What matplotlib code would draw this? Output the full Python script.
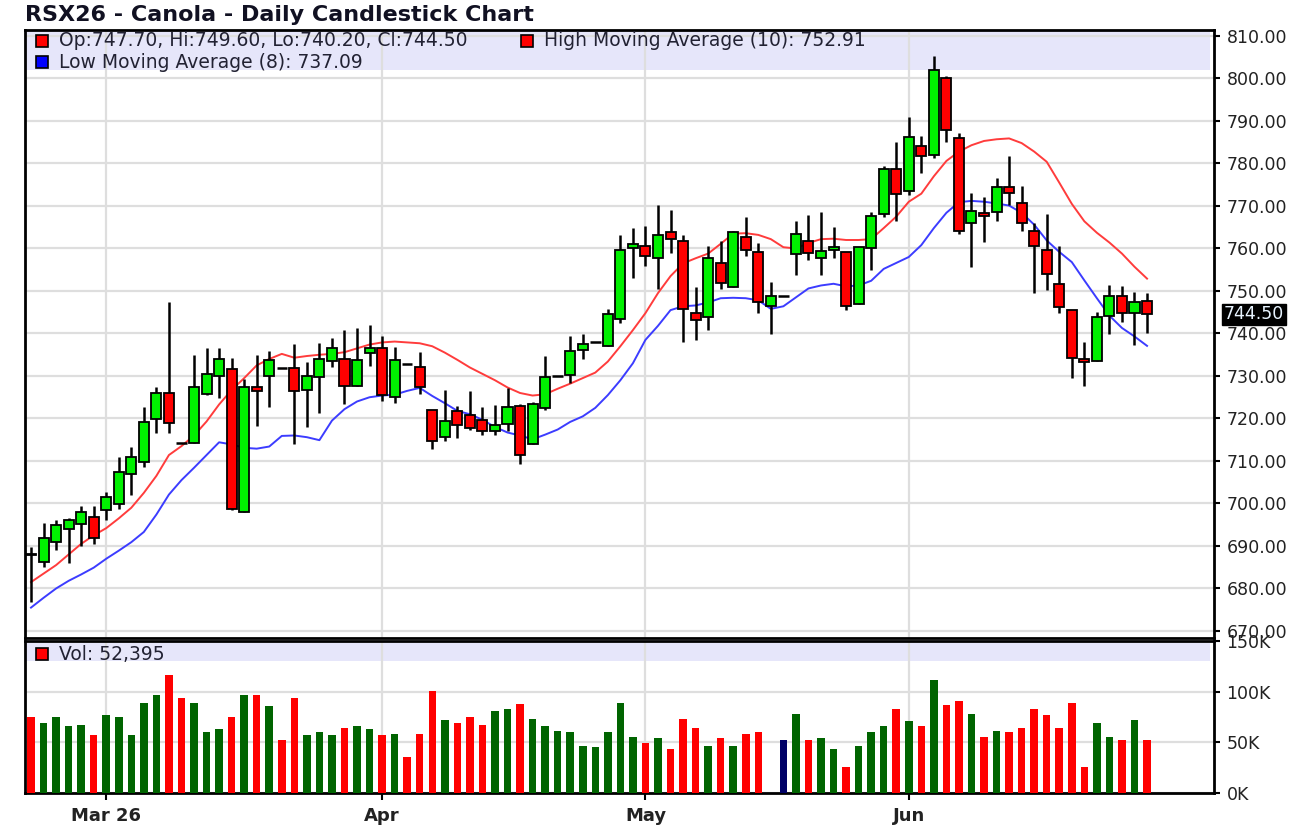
import numpy as np
import matplotlib.pyplot as plt
from matplotlib.patches import Rectangle
from matplotlib.ticker import FuncFormatter
import matplotlib.transforms as mtransforms

# daily OHLC
opens = [688.2, 686.2, 690.9, 694.1, 695.2, 696.8, 698.4, 699.9, 707.0, 709.7,
         719.9, 726.1, 714.2, 714.2, 725.8, 729.9, 731.6, 698.0, 727.3, 729.9,
         731.9, 731.9, 726.8, 729.8, 733.6, 734.1, 727.7, 735.4, 736.7, 725.0,
         732.8, 732.0, 722.0, 715.6, 721.8, 720.8, 719.6, 717.0, 718.7, 722.9,
         714.0, 722.5, 730.1, 730.2, 736.0, 738.0, 737.0, 743.4, 760.1, 760.5,
         757.8, 763.9, 761.7, 744.8, 743.9, 756.6, 751.0, 762.7, 759.2, 746.4,
         748.9, 758.8, 761.7, 757.8, 759.6, 759.2, 747.0, 760.1, 768.1, 778.7,
         773.6, 784.0, 782.0, 800.2, 785.9, 766.0, 768.3, 768.5, 774.4, 770.7,
         764.0, 759.7, 751.6, 745.6, 734.0, 733.6, 744.1, 748.8, 744.8, 747.7]
highs = [689.8, 695.5, 696.2, 696.6, 699.5, 699.4, 702.7, 710.9, 713.2, 722.6,
         727.5, 747.3, 727.7, 734.9, 736.7, 736.5, 734.2, 729.3, 735.0, 735.9,
         736.7, 737.6, 733.2, 737.7, 739.0, 740.9, 741.4, 741.9, 739.3, 736.9,
         735.1, 735.7, 722.0, 726.8, 723.0, 726.5, 722.8, 723.2, 727.2, 723.4,
         723.8, 734.6, 737.6, 739.4, 739.9, 741.0, 745.8, 763.2, 764.8, 765.2,
         770.3, 769.1, 763.2, 751.0, 760.7, 761.7, 764.0, 767.5, 761.4, 752.1,
         748.9, 766.4, 767.9, 768.7, 765.0, 759.2, 760.3, 768.5, 779.5, 785.0,
         791.0, 786.4, 805.2, 800.6, 787.1, 773.0, 772.0, 776.7, 781.7, 774.6,
         766.0, 768.1, 760.5, 745.6, 737.9, 745.0, 751.4, 751.1, 749.7, 749.6]
lows = [676.9, 685.1, 689.0, 686.1, 690.1, 690.5, 696.0, 698.7, 701.9, 708.5,
        716.5, 716.7, 709.7, 714.2, 725.5, 724.8, 698.4, 698.0, 718.3, 722.6,
        729.3, 714.0, 717.9, 721.4, 732.2, 723.4, 727.7, 732.4, 724.2, 723.6,
        727.9, 725.7, 712.8, 714.8, 715.3, 717.4, 716.0, 716.0, 717.1, 709.3,
        714.0, 722.0, 728.8, 728.3, 734.0, 735.5, 737.0, 742.5, 753.1, 755.8,
        750.5, 759.0, 738.0, 738.4, 740.9, 750.5, 751.0, 758.2, 744.8, 739.8,
        748.9, 753.8, 757.4, 753.8, 757.8, 745.5, 747.0, 755.0, 767.3, 766.5,
        772.6, 777.7, 781.4, 785.0, 763.4, 755.6, 761.6, 766.5, 770.2, 764.0,
        749.5, 750.3, 744.8, 729.5, 727.7, 733.6, 739.9, 742.6, 737.2, 740.2]
closes = [687.8, 691.9, 695.0, 696.2, 698.0, 691.9, 701.5, 707.4, 710.9, 719.1,
          725.9, 718.9, 714.2, 727.3, 730.4, 734.1, 698.8, 727.3, 726.5, 733.8,
          731.9, 726.4, 730.1, 734.1, 736.7, 727.7, 733.8, 736.5, 725.5, 733.8,
          732.8, 727.5, 714.8, 719.3, 718.5, 717.7, 717.0, 718.5, 722.6, 711.5,
          723.4, 729.7, 730.1, 735.8, 737.6, 738.0, 744.5, 759.7, 761.1, 758.2,
          763.1, 762.2, 745.8, 743.1, 757.8, 751.9, 763.9, 759.7, 747.4, 748.8,
          748.9, 763.5, 759.0, 759.5, 760.3, 746.4, 760.3, 767.7, 778.8, 772.8,
          786.3, 781.8, 802.0, 787.9, 764.0, 768.9, 767.7, 774.4, 773.0, 766.0,
          760.5, 754.0, 746.2, 734.3, 733.2, 743.8, 748.8, 744.8, 747.3, 744.5]
last_ohlc = (747.70, 749.60, 740.20, 744.50)

# moving averages as drawn
high_ma = [681.5, 683.5, 685.5, 688.0, 690.5, 692.5, 694.2, 696.5, 699.0, 702.5,
           706.5, 711.4, 713.5, 716.0, 719.3, 723.3, 726.7, 729.5, 732.5, 734.0,
           735.2, 734.3, 734.7, 735.0, 735.2, 735.6, 736.5, 737.4, 737.9, 738.1,
           737.9, 737.7, 737.0, 735.5, 733.8, 732.0, 730.5, 729.0, 727.3, 726.0,
           725.4, 725.7, 727.0, 728.2, 729.5, 730.8, 733.4, 737.0, 740.8, 744.8,
           749.5, 753.5, 756.5, 757.7, 758.8, 761.1, 763.5, 763.6, 763.2, 762.2,
           760.3, 760.0, 761.3, 762.2, 762.3, 762.0, 762.0, 762.2, 764.8, 767.5,
           771.0, 772.9, 777.0, 780.6, 782.8, 784.3, 785.3, 785.7, 785.9, 784.8,
           782.8, 780.4, 775.5, 770.5, 766.4, 763.7, 761.4, 758.8, 755.7, 752.91]
low_ma = [675.5, 677.8, 680.0, 681.8, 683.3, 684.9, 687.0, 688.9, 690.9, 693.3,
          697.4, 702.1, 705.5, 708.4, 711.4, 714.4, 713.9, 713.1, 712.9, 713.4,
          715.9, 716.0, 715.6, 714.9, 719.5, 722.2, 724.0, 725.0, 725.4, 725.6,
          726.5, 727.2, 725.3, 723.6, 721.8, 721.0, 719.7, 718.0, 716.7, 716.0,
          715.1, 716.2, 717.4, 719.2, 720.5, 722.5, 725.5, 729.0, 733.0, 738.5,
          741.8, 745.5, 746.4, 746.6, 747.3, 748.3, 748.4, 748.3, 747.8, 745.8,
          746.4, 748.5, 750.6, 751.3, 751.7, 751.1, 751.3, 752.4, 755.2, 756.6,
          758.0, 760.8, 764.8, 768.4, 770.9, 771.2, 771.0, 770.6, 770.1, 768.4,
          765.6, 761.9, 759.2, 756.8, 752.5, 748.3, 744.2, 741.3, 739.3, 737.09]

volumes = [75100, 69200, 75100, 66200, 67500, 56900, 76800, 75100, 56900, 89000,
           96300, 116200, 93300, 89000, 60200, 63200, 75100, 96300, 96300, 85700,
           52600, 93300, 56900, 60200, 56900, 64500, 66200, 63200, 56900, 58600,
           35700, 58600, 101000, 72200, 69200, 75100, 67500, 81400, 82800, 87400,
           73500, 66200, 61600, 60200, 46700, 45000, 60000, 88700, 55300, 49300,
           54000, 43400, 73500, 64500, 46300, 54000, 46300, 58600, 59900, 0,
           52300, 78100, 52300, 54000, 43400, 25200, 46300, 59900, 66200, 82800,
           71200, 66200, 111500, 87100, 90400, 77800, 55300, 61600, 59900, 64200,
           82800, 76800, 64200, 88700, 25200, 68800, 55300, 52300, 72200, 52395]
# volume bar colour per day: g = up, r = down, n = unchanged
vol_dir = "".join(["rggggrgggg", "grrgggrgrg", "rrgggrggrg", "rrrgrrrggr",
                   "gggggggggr", "grrrgrgrrg", "ngrggrgggr", "grgrrgrgrr",
                   "rrrrrggrgr"])

month_idx = [6, 28, 49, 70]
month_labels = ["Mar 26", "Apr", "May", "Jun"]
price_ticks = list(range(670, 811, 10))
vol_ticks = [0, 50, 100, 150]

W, H = 1303, 831
fig = plt.figure(figsize=(W / 100, H / 100), dpi=100)
fig.patch.set_facecolor("white")


def fx(px):
    return px / W


def fy(py):
    return 1 - py / H


ax = fig.add_axes([fx(25), fy(638), fx(1214) - fx(25), fy(30) - fy(638)])
axv = fig.add_axes([fx(25), fy(793), fx(1214) - fx(25), fy(641) - fy(793)])

grid_c = "#dedede"
for a in (ax, axv):
    a.set_xlim(-0.478, 94.34)
    a.set_axisbelow(True)
    for s in a.spines.values():
        s.set_linewidth(2)
        s.set_color("black")
    a.yaxis.tick_right()
    a.tick_params(axis="y", length=4, width=1.5, pad=5, labelsize=12.5,
                  labelcolor="#222222")
    a.set_xticks(month_idx)
    a.grid(True, color=grid_c, lw=1.6)

ax.tick_params(axis="x", bottom=False, labelbottom=False)
axv.set_xticklabels(month_labels, fontweight="bold", fontsize=13)
axv.tick_params(axis="x", length=5, width=1.5, pad=5, labelcolor="#222222")

# price panel
x = np.arange(len(opens))
o = np.array(opens)
c = np.array(closes)
up = c > o
dn = c < o
fl = c == o

ax.set_ylim(668.35, 811.41)
ax.set_yticks(price_ticks)
ax.yaxis.set_major_formatter(FuncFormatter(lambda v, p: f"{v:.2f}"))
ax.add_patch(Rectangle((0, 0.934), 0.9966, 0.066, transform=ax.transAxes,
                       facecolor="#e6e6fa", edgecolor="none", zorder=0))

ax.plot(x, high_ma, color="#ff3c3c", lw=1.4, zorder=2)
ax.plot(x, low_ma, color="#3c3cff", lw=1.4, zorder=2)
ax.vlines(x[~fl], np.array(lows)[~fl], np.array(highs)[~fl], color="black",
          lw=1.8, zorder=3)
ax.bar(x[up], (c - o)[up], bottom=o[up], width=0.8, color="#00f000",
       edgecolor="black", lw=1.3, zorder=4)
ax.bar(x[dn], (o - c)[dn], bottom=c[dn], width=0.8, color="#ff0000",
       edgecolor="black", lw=1.3, zorder=4)
ax.hlines(c[fl], x[fl] - 0.42, x[fl] + 0.42, color="black", lw=1.8, zorder=4)

# last price tag on the price scale
trans = mtransforms.blended_transform_factory(ax.transAxes, ax.transData)
ax.text(1 + 10 / 1189, closes[-1], f"{closes[-1]:.2f}", transform=trans,
        ha="left", va="center", color="#e8f4ff", fontsize=12.5,
        bbox=dict(boxstyle="square,pad=0.1", fc="black", ec="black"),
        clip_on=False, zorder=10)

# volume panel
vcol = {"g": "#006400", "r": "#ff0000", "n": "#000066"}
axv.set_ylim(0, 150)
axv.set_yticks(vol_ticks)
axv.yaxis.set_major_formatter(FuncFormatter(lambda v, p: f"{v:.0f}K"))
axv.add_patch(Rectangle((0, 0.87), 0.9966, 0.115, transform=axv.transAxes,
                        facecolor="#e6e6fa", edgecolor="none", zorder=0))
axv.bar(x, np.array(volumes) / 1000, width=0.6,
        color=[vcol[k] for k in vol_dir], zorder=3)

# header texts and legend keys
fig.text(fx(25), fy(15), "RSX26 - Canola - Daily Candlestick Chart",
         fontsize=16, fontweight="bold", va="center", color="#111122")


def key(px, py, color, label):
    fig.patches.append(Rectangle((fx(px), fy(py + 6)), 12 / W, 12 / H,
                                 transform=fig.transFigure, facecolor=color,
                                 edgecolor="black", lw=1.2, zorder=5))
    fig.text(fx(px + 23), fy(py), label, fontsize=13.5, va="center",
             color="#222233")


op, hi, lo, cl = last_ohlc
key(36, 41, "#ff0000", f"Op:{op:.2f}, Hi:{hi:.2f}, Lo:{lo:.2f}, Cl:{cl:.2f}")
key(521, 41, "#ff0000", f"High Moving Average (10): {high_ma[-1]:.2f}")
key(36, 62, "#0000ff", f"Low Moving Average (8): {low_ma[-1]:.2f}")
key(36, 654, "#ff0000", f"Vol: {volumes[-1]:,}")

fig.savefig("out.png", dpi=100, facecolor="white")
